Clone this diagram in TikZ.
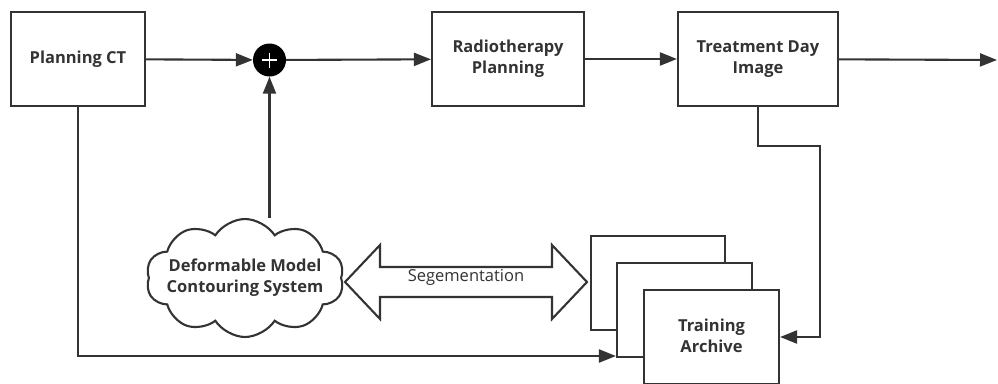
\documentclass[tikz,border=0pt]{standalone}
\usepackage{fontspec}
\setmainfont{Open Sans}
\usetikzlibrary{arrows.meta,shapes.symbols,calc}
\definecolor{ln}{HTML}{333333}
\definecolor{tx}{HTML}{333333}
\tikzset{
  lbl/.style={align=center,text=tx,font=\fontsize{16.5}{21}\selectfont\bfseries},
  box/.style={draw=ln,line width=2.1pt,fill=white,lbl,inner sep=0pt},
  arr/.style={draw=ln,line width=2.1pt,-{Triangle[length=17pt,width=13pt]}},
  ln/.style={draw=ln,line width=2.1pt}
}
\begin{document}
\begin{tikzpicture}[x=1pt,y=-1pt]
\useasboundingbox (0,0) rectangle (998,383);
% boxes
\node[box,minimum width=134pt,minimum height=94pt] (ct) at (78,59) {Planning CT};
\node[box,minimum width=152pt,minimum height=94pt] (rp) at (508,59) {Radiotherapy\\Planning};
\node[box,minimum width=160pt,minimum height=94pt] (td) at (758,59) {Treatment Day\\Image};
\node[circle,fill=black,minimum size=33pt,inner sep=0pt] (plus) at (269.5,60) {};
\draw[white,line width=1.4pt] ($(plus)+(-7.5,0)$) -- ($(plus)+(7.5,0)$) ($(plus)+(0,-7.5)$) -- ($(plus)+(0,7.5)$);
% training archive stack
\node[box,minimum width=134pt,minimum height=94pt] (ta3) at (658,283) {};
\node[box,minimum width=135pt,minimum height=94pt] (ta2) at (684.5,310) {};
\node[box,minimum width=135pt,minimum height=94pt] (ta) at (711.5,337) {};
\node[lbl] (tat) at (711.5,336) {Training\\Archive};
% cloud
\node[cloud,draw=ln,line width=2.1pt,fill=white,cloud puffs=10,cloud puff arc=115,aspect=1.65,minimum width=198pt,minimum height=118pt,inner sep=0pt] (cl) at (245,278) {};
\node[lbl] (clt) at (245,278) {Deformable Model\\Contouring System};
% double arrow
\coordinate (dl) at (345,282);
\coordinate (dr) at (587,282);
\draw[ln,fill=white,line join=miter] (dl) -- (380,245) -- (380,267) -- (552,267) -- (552,245) -- (dr) -- (552,319) -- (552,297) -- (380,297) -- (380,319) -- cycle;
\node[text=tx,font=\fontsize{16.5}{20}\selectfont] (seg) at (466,277) {Segementation};
% connectors
\draw[arr] (ct) -- (plus);
\draw[arr] (plus) -- (rp);
\draw[arr] (rp) -- (td);
\coordinate (out) at (997,60);
\draw[arr] (td) -- (out);
\draw[arr] (plus |- cl.north) -- (plus);
\coordinate (c1) at (78,356);
\draw[arr] (ct.south) -- (c1) -- (ta2.west |- c1);
\coordinate (c2) at (758,146);
\coordinate (c3) at (820,146);
\coordinate (c4) at (820,337);
\draw[arr] (td.south) -- (c2) -- (c3) -- (c4) -- (ta.east |- c4);
\end{tikzpicture}
\end{document}
